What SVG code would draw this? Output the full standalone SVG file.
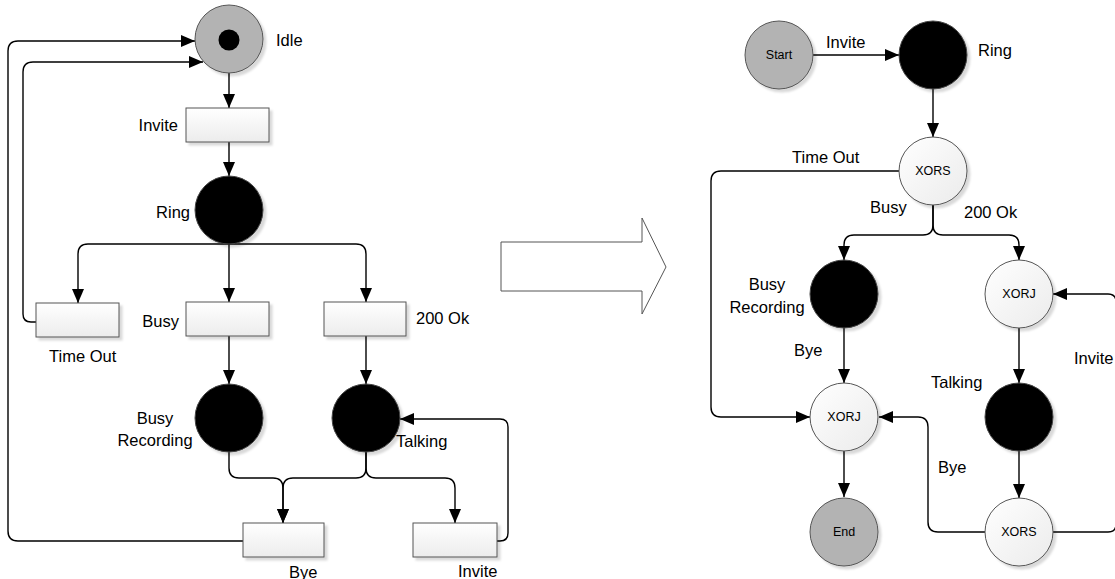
<svg xmlns="http://www.w3.org/2000/svg" width="1115" height="579" viewBox="0 0 1115 579">
  <style>
    .lbl { font-family: "Liberation Sans", Arial, sans-serif; font-size: 16.5px; fill: #000; }
    .mid { text-anchor: middle; }
    .end { text-anchor: end; }
    .sm { font-family: "Liberation Sans", Arial, sans-serif; font-size: 12.5px; fill: #000; text-anchor: middle; }
    .edge { fill: none; stroke: #000; stroke-width: 1.4; }
    .arr { marker-end: url(#ah); }
    .box { fill: url(#boxFill); stroke: #555; stroke-width: 1; filter: url(#shadow); }
    .dark { fill: #000; stroke: #444; stroke-width: 1; filter: url(#shadow); }
    .grey { fill: #b3b3b3; stroke: #555; stroke-width: 1; filter: url(#shadow); }
    .light { fill: url(#lightFill); stroke: #555; stroke-width: 1; filter: url(#shadow); }
    .big { fill: #fff; stroke: #555; stroke-width: 1; }
  </style>
  <defs>
    <marker id="ah" viewBox="0 0 14 12" refX="14" refY="6" markerWidth="14" markerHeight="12" markerUnits="userSpaceOnUse" orient="auto">
      <path d="M0,0 L14,6 L0,12 z" fill="#000"/>
    </marker>
    <linearGradient id="boxFill" x1="0" y1="0" x2="0" y2="1">
      <stop offset="0" stop-color="#ffffff"/>
      <stop offset="1" stop-color="#ececec"/>
    </linearGradient>
    <linearGradient id="lightFill" x1="0" y1="0" x2="1" y2="1">
      <stop offset="0" stop-color="#ffffff"/>
      <stop offset="1" stop-color="#ebebeb"/>
    </linearGradient>
    <filter id="shadow" x="-20%" y="-20%" width="150%" height="150%">
      <feDropShadow dx="3" dy="3" stdDeviation="1" flood-color="#000" flood-opacity="0.15"/>
    </filter>
  </defs>

  <!-- connectors -->
  <g id="connectors">
    <!-- original net -->
    <path class="edge arr" d="M229,73 V108"/>
    <path class="edge arr" d="M229,142 V176"/>
    <path class="edge arr" d="M229,244 V302"/>
    <path class="edge arr" d="M229,244 H88 Q78,244 78,254 V303"/>
    <path class="edge arr" d="M229,244 H356 Q366,244 366,254 V302"/>
    <path class="edge arr" d="M229,336 V384"/>
    <path class="edge arr" d="M366,336 V384"/>
    <path class="edge arr" d="M229,452 V468 Q229,478 239,478 H273 Q283,478 283,488 V523"/>
    <path class="edge arr" d="M366,452 V468 Q366,478 356,478 H293 Q283,478 283,488 V523"/>
    <path class="edge arr" d="M366,452 V468 Q366,478 376,478 H445 Q455,478 455,488 V523"/>
    <path class="edge arr" d="M497,541 H500 Q508,541 508,533 V427 Q508,419 500,419 H400"/>
    <path class="edge arr" d="M243,541 H18 Q8,541 8,531 V51 Q8,41 18,41 H195"/>
    <path class="edge arr" d="M36,322 H31 Q23,322 23,314 V72 Q23,62 33,62 H203"/>
    <!-- converted workflow -->
    <path class="edge arr" d="M813,55 H899"/>
    <path class="edge arr" d="M933,89 V137"/>
    <path class="edge arr" d="M899,171 H721 Q711,171 711,181 V407 Q711,417 721,417 H810"/>
    <path class="edge arr" d="M933,205 V225 Q933,235 923,235 H854 Q844,235 844,245 V260"/>
    <path class="edge arr" d="M933,205 V225 Q933,235 943,235 H1009 Q1019,235 1019,245 V260"/>
    <path class="edge arr" d="M844,328 V383"/>
    <path class="edge arr" d="M1019,328 V383"/>
    <path class="edge arr" d="M1019,451 V498"/>
    <path class="edge arr" d="M844,451 V497"/>
    <path class="edge arr" d="M985,532 H938 Q928,532 928,522 V427 Q928,417 918,417 H879"/>
    <path class="edge arr" d="M1053,532 H1108 Q1116,532 1116,524 V302 Q1116,294 1108,294 H1053"/>
  </g>

  <!-- original net: places and transitions -->
  <g id="idle">
    <circle class="grey" cx="229" cy="39" r="34"/>
    <circle cx="229" cy="40" r="10.5" fill="#000"/>
    <text class="lbl" x="276" y="46">Idle</text>
  </g>
  <g id="t-invite">
    <rect class="box" x="186" y="108" width="83" height="34"/>
    <text class="lbl end" x="178" y="131">Invite</text>
  </g>
  <g id="ring">
    <circle class="dark" cx="229" cy="210" r="34"/>
    <text class="lbl end" x="190" y="218">Ring</text>
  </g>
  <g id="t-timeout">
    <rect class="box" x="36" y="303" width="83" height="34"/>
    <text class="lbl" x="49" y="362">Time Out</text>
  </g>
  <g id="t-busy">
    <rect class="box" x="186" y="302" width="83" height="34"/>
    <text class="lbl end" x="179" y="327">Busy</text>
  </g>
  <g id="t-200ok">
    <rect class="box" x="324" y="302" width="82" height="34"/>
    <text class="lbl" x="416" y="324">200 Ok</text>
  </g>
  <g id="busy-recording">
    <circle class="dark" cx="229" cy="418" r="34"/>
    <text class="lbl mid" x="155" y="424">Busy</text>
    <text class="lbl mid" x="155" y="446">Recording</text>
  </g>
  <g id="talking">
    <circle class="dark" cx="366" cy="418" r="34"/>
    <text class="lbl" x="396" y="447">Talking</text>
  </g>
  <g id="t-bye">
    <rect class="box" x="243" y="523" width="81" height="34"/>
    <text class="lbl" x="289" y="578">Bye</text>
  </g>
  <g id="t-invite2">
    <rect class="box" x="413" y="523" width="84" height="34"/>
    <text class="lbl" x="458" y="577">Invite</text>
  </g>

  <!-- transformation arrow -->
  <g id="transform-arrow">
    <path class="big" d="M501,242 H642 V218 L666,267 L642,314 V291 H501 Z"/>
  </g>

  <!-- converted workflow: nodes -->
  <g id="start">
    <circle class="grey" cx="779" cy="55" r="34"/>
    <text class="sm" x="779" y="59">Start</text>
  </g>
  <text class="lbl" x="826" y="48">Invite</text>
  <g id="ring2">
    <circle class="dark" cx="933" cy="55" r="34"/>
    <text class="lbl" x="978" y="56">Ring</text>
  </g>
  <g id="xors1">
    <circle class="light" cx="933" cy="171" r="34"/>
    <text class="sm" x="933" y="175">XORS</text>
  </g>
  <text class="lbl" x="792" y="163">Time Out</text>
  <text class="lbl" x="870" y="213">Busy</text>
  <text class="lbl" x="964" y="218">200 Ok</text>
  <g id="busy-recording2">
    <circle class="dark" cx="844" cy="294" r="34"/>
    <text class="lbl mid" x="767" y="290">Busy</text>
    <text class="lbl mid" x="767" y="313">Recording</text>
  </g>
  <g id="xorj1">
    <circle class="light" cx="1019" cy="294" r="34"/>
    <text class="sm" x="1019" y="298">XORJ</text>
  </g>
  <text class="lbl" x="794" y="356">Bye</text>
  <text class="lbl" x="1074" y="364">Invite</text>
  <g id="xorj2">
    <circle class="light" cx="844" cy="417" r="34"/>
    <text class="sm" x="844" y="421">XORJ</text>
  </g>
  <g id="talking2">
    <circle class="dark" cx="1019" cy="417" r="34"/>
    <text class="lbl" x="931" y="388">Talking</text>
  </g>
  <text class="lbl" x="938" y="473">Bye</text>
  <g id="end">
    <circle class="grey" cx="844" cy="532" r="34"/>
    <text class="sm" x="844" y="536">End</text>
  </g>
  <g id="xors2">
    <circle class="light" cx="1019" cy="532" r="34"/>
    <text class="sm" x="1019" y="536">XORS</text>
  </g>
</svg>
